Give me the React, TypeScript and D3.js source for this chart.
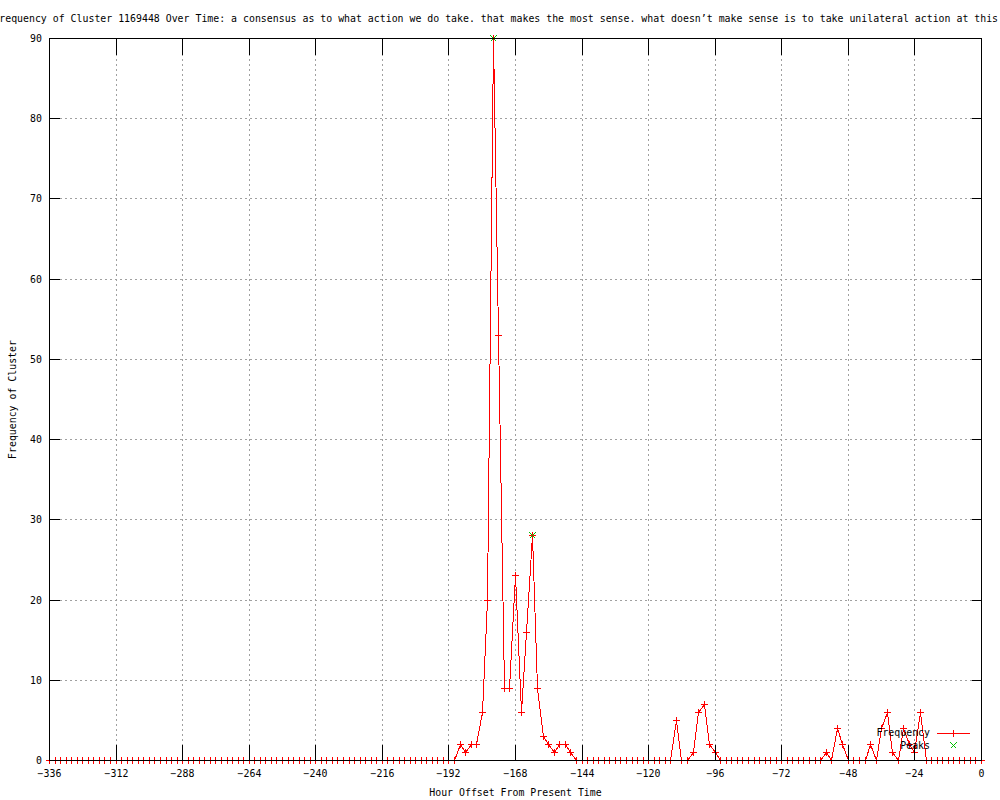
import React from "react";
import * as d3 from "d3";

const TITLE =
  "Frequency of Cluster 1169448 Over Time: a consensus as to what action we do take. that makes the most sense. what doesn\u2019t make sense is to take unilateral action at this";
const X_LABEL = "Hour Offset From Present Time";
const Y_LABEL = "Frequency of Cluster";

// hours from -336 to 0 every 2 hours; only non-zero values listed
const nonZeroHours = [
  -188, -186, -184, -182, -180, -178, -176, -174, -172, -170, -168, -166, -164, -162, -160, -158, -156, -154, -152, -150, -148,
  -110, -104, -102, -100, -98, -96,
  -56, -52, -50, -40, -36, -34, -32, -28, -26, -24, -22,
];
const nonZeroValues = [
  2, 1, 2, 2, 6, 20, 90, 53, 9, 9, 23, 6, 16, 28, 9, 3, 2, 1, 2, 2, 1,
  5, 1, 6, 7, 2, 1,
  1, 4, 2, 2, 4, 6, 1, 4, 2, 1, 6,
];
const peakHours = [-176, -162];
const peakValues = [90, 28];

const xTicks = [-336, -312, -288, -264, -240, -216, -192, -168, -144, -120, -96, -72, -48, -24, 0];
const yTicks = [0, 10, 20, 30, 40, 50, 60, 70, 80, 90];

const hours = d3.range(-336, 1, 2);
const valueMap = new Map(nonZeroHours.map((h, i) => [h, nonZeroValues[i]]));
const series = hours.map((h) => ({ h, v: valueMap.get(h) ?? 0 }));
const peaks = peakHours.map((h, i) => ({ h, v: peakValues[i] }));

const FONT = "'DejaVu Sans Mono', monospace";
const FS = 9.9;

export default function App() {
  const left = 49.5, right = 981.5, top = 38.5, bottom = 760.5;
  const x = d3.scaleLinear().domain([-336, 0]).range([left, right]);
  const y = d3.scaleLinear().domain([0, 90]).range([bottom, top]);
  const px = (v: number) => Math.round(x(v) - 0.5) + 0.5;
  const py = (v: number) => Math.round(y(v) - 0.5) + 0.5;

  const line = d3
    .line<{ h: number; v: number }>()
    .x((d) => px(d.h))
    .y((d) => py(d.v));

  const plus = (cx: number, cy: number, r = 3.5) =>
    `M${cx - r},${cy}H${cx + r}M${cx},${cy - r}V${cy + r}`;
  const cross = (cx: number, cy: number, r = 3) =>
    `M${cx - r},${cy - r}L${cx + r},${cy + r}M${cx - r},${cy + r}L${cx + r},${cy - r}`;

  return (
    <svg width={1000} height={800} style={{ position: "absolute", left: 0, top: 0, background: "#fff" }}>
      {/* grid */}
      <g stroke="#a0a0a0" strokeDasharray="2,3" shapeRendering="crispEdges">
        {yTicks.slice(1, -1).map((t) => (
          <line key={"gy" + t} x1={left} x2={right} y1={py(t)} y2={py(t)} />
        ))}
        {xTicks.slice(1, -1).map((t) => (
          <line key={"gx" + t} x1={px(t)} x2={px(t)} y1={top} y2={bottom} />
        ))}
      </g>
      {/* data */}
      <path d={line(series) ?? ""} fill="none" stroke="#ff0000" strokeWidth={1} shapeRendering="crispEdges" />
      <path
        d={series.map((d) => plus(px(d.h), py(d.v))).join("")}
        fill="none"
        stroke="#ff0000"
        shapeRendering="crispEdges"
      />
      <path
        d={peaks.map((d) => cross(px(d.h), py(d.v))).join("")}
        fill="none"
        stroke="#00c000"
        shapeRendering="crispEdges"
      />
      {/* border & ticks */}
      <g stroke="#000" fill="none" shapeRendering="crispEdges">
        <rect x={left} y={top} width={right - left} height={bottom - top} />
        {yTicks.map((t) => (
          <g key={"ty" + t}>
            <line x1={left} x2={left + 10} y1={py(t)} y2={py(t)} />
            <line x1={right} x2={right - 10} y1={py(t)} y2={py(t)} />
          </g>
        ))}
        {xTicks.map((t) => (
          <g key={"tx" + t}>
            <line x1={px(t)} x2={px(t)} y1={bottom} y2={bottom - 16} />
            <line x1={px(t)} x2={px(t)} y1={top} y2={top + 16} />
          </g>
        ))}
      </g>
      {/* labels */}
      <g fontFamily={FONT} fontSize={FS} fill="#000">
        {yTicks.map((t) => (
          <text key={"ly" + t} x={42} y={py(t)} dy="0.35em" textAnchor="end">
            {t}
          </text>
        ))}
        {xTicks.map((t) => (
          <text key={"lx" + t} x={px(t)} y={773.5} dy="0.35em" textAnchor="middle">
            {t < 0 ? "\u2212" + Math.abs(t) : String(t)}
          </text>
        ))}
        <text x={-6.7} y={19} dy="0.35em" textAnchor="start">
          {TITLE}
        </text>
        <text x={(left + right) / 2} y={793} dy="0.35em" textAnchor="middle">
          {X_LABEL}
        </text>
        <text
          transform={`translate(12.5,${(top + bottom) / 2}) rotate(-90)`}
          dy="0.35em"
          textAnchor="middle"
        >
          {Y_LABEL}
        </text>
        {/* legend */}
        <text x={930} y={733} dy="0.35em" textAnchor="end">
          Frequency
        </text>
        <text x={930} y={746} dy="0.35em" textAnchor="end">
          Peaks
        </text>
      </g>
      <g fill="none" shapeRendering="crispEdges">
        <path d={`M937,733.5H970${plus(953.5, 733.5)}`} stroke="#ff0000" />
        <path d={cross(953.5, 745.5)} stroke="#00c000" />
      </g>
    </svg>
  );
}
